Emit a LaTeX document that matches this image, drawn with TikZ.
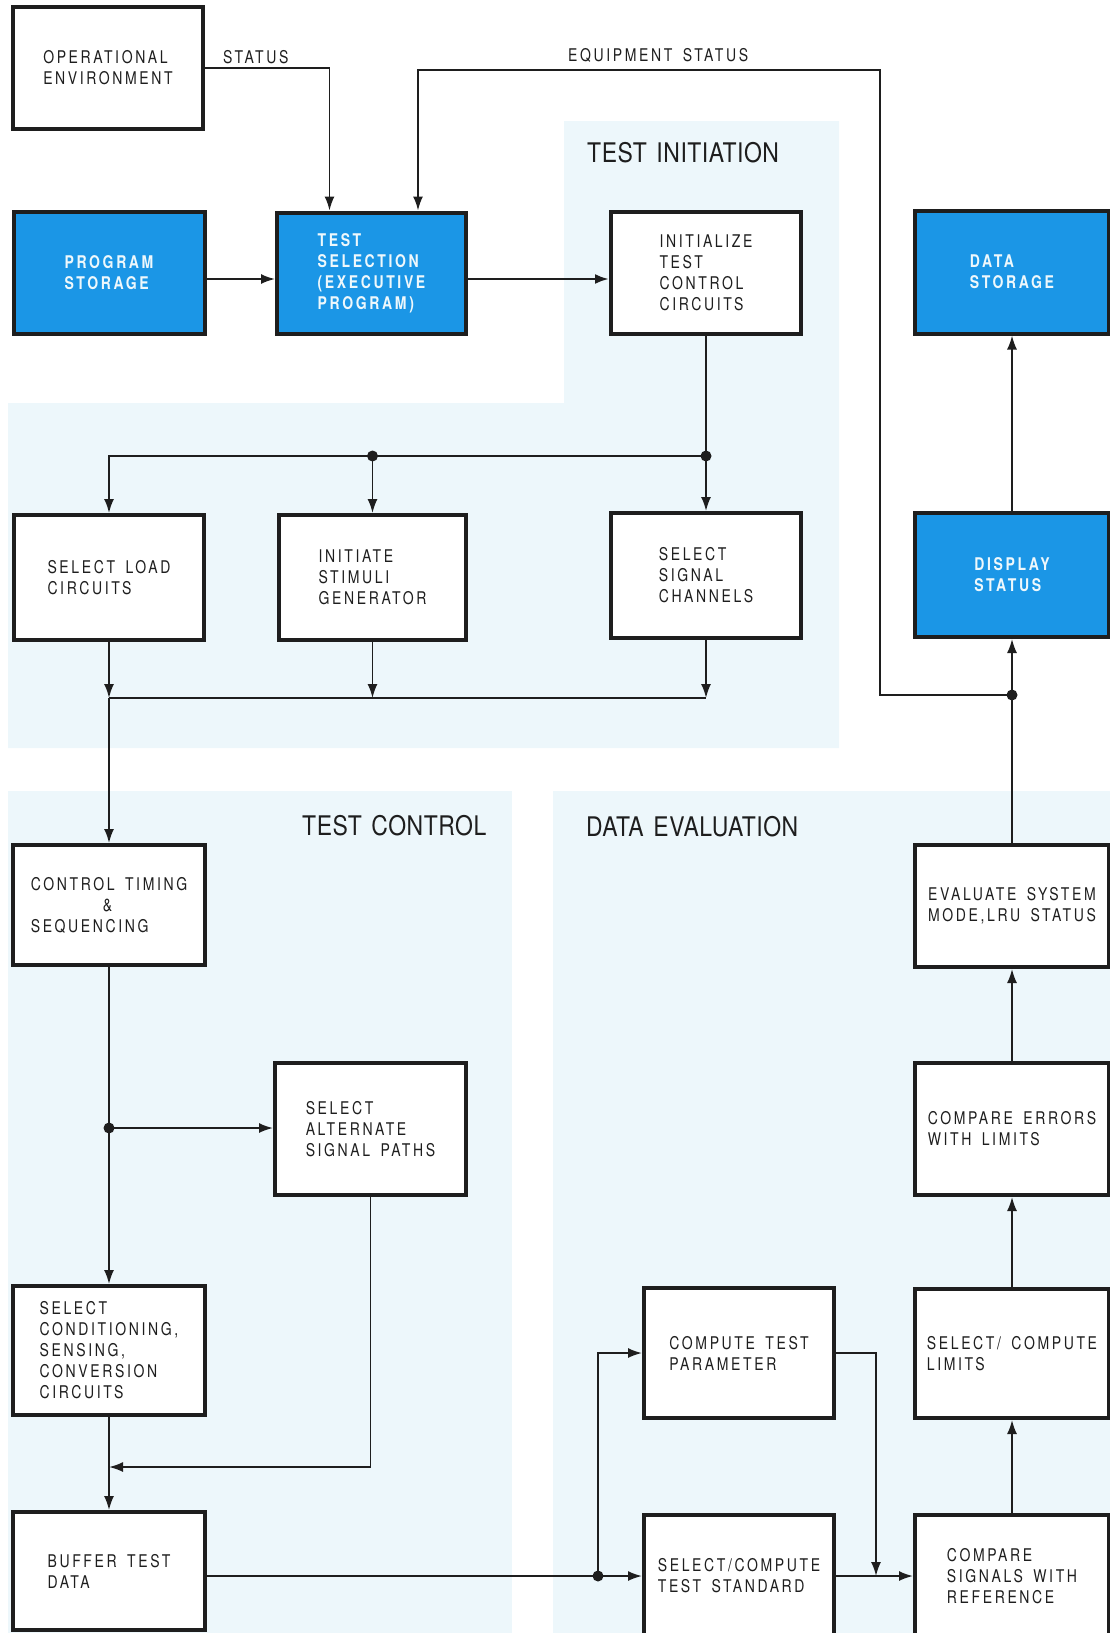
\documentclass[tikz,border=0pt]{standalone}
\usepackage{fontspec}
\setmainfont{TeX Gyre Heros}[FakeStretch=0.8,LetterSpace=15,WordSpace=1.6]
\newfontfamily\headfont{TeX Gyre Heros}[FakeStretch=0.85,LetterSpace=2,WordSpace=1.4]
\usetikzlibrary{arrows.meta}
\definecolor{ink}{RGB}{30,30,30}
\definecolor{panel}{RGB}{27,150,230}
\definecolor{wash}{RGB}{237,247,251}
\definecolor{chalk}{RGB}{238,248,252}

\begin{document}
\begin{tikzpicture}[x=1pt,y=-1pt,
  box/.style={draw=ink,line width=4pt,fill=white,text=ink,align=left,inner sep=0pt,
    font=\fontsize{17.5}{21}\selectfont},
  bluebox/.style={box,fill=panel,text=chalk,font=\fontsize{17.5}{21}\selectfont\bfseries},
  lbl/.style={text=ink,inner sep=0pt,anchor=west,font=\fontsize{17.5}{21}\selectfont},
  head/.style={text=ink,inner sep=0pt,anchor=west,font=\fontsize{27}{32}\headfont},
  conn/.style={draw=ink,line width=1.8pt},
  arr/.style={conn,-{Latex[length=14pt,width=10pt]}}]
\useasboundingbox (0,0) rectangle (1110,1633);
\clip (0,0) rectangle (1110,1633);
\fill[wash] (8,403) -- (564,403) -- (564,121) -- (839,121) -- (839,748) -- (8,748) -- cycle;
\fill[wash] (8,791) rectangle (512,1633);
\fill[wash] (553,791) rectangle (1110,1633);

\node[lbl] (stat) at (223,57) {STATUS};
\node[lbl] (eqstat) at (568,55) {EQUIPMENT STATUS};
\node[head] (tinit) at (587,153) {TEST INITIATION};
\node[head] (tctrl) at (302,826) {TEST CONTROL};
\node[head] (deval) at (586,827) {DATA EVALUATION};

\node[box,minimum width=190pt,minimum height=122pt] (oper) at (108,68) {OPERATIONAL\\ENVIRONMENT};
\node[bluebox,minimum width=191pt,minimum height=122pt] (prog) at (109,273) {PROGRAM\\STORAGE};
\node[bluebox,minimum width=189pt,minimum height=121pt] (sel) at (371.5,273) {TEST\\SELECTION\\(EXECUTIVE\\PROGRAM\,)};
\node[box,minimum width=190pt,minimum height=122pt] (init) at (706,273) {INITIALIZE\\TEST\\CONTROL\\CIRCUITS};
\node[bluebox,minimum width=194pt,minimum height=123pt] (store) at (1012,272) {DATA\\STORAGE};
\node[box,minimum width=190pt,minimum height=125pt] (load) at (109,577.5) {SELECT LOAD\\CIRCUITS};
\node[box,minimum width=187pt,minimum height=125pt] (stim) at (372.5,577.5) {INITIATE\\STIMULI\\GENERATOR};
\node[box,minimum width=190pt,minimum height=125pt] (chan) at (706,575.5) {SELECT\\SIGNAL\\CHANNELS};
\node[bluebox,minimum width=194pt,minimum height=124pt] (disp) at (1012,575) {DISPLAY\\STATUS};
\node[box,minimum width=192pt,minimum height=120pt] (timing) at (109,905) {CONTROL TIMING\\\hspace*{72pt}\&\\SEQUENCING};
\node[box,minimum width=194pt,minimum height=122pt] (eval) at (1012,906) {EVALUATE SYSTEM\\MODE,LRU STATUS};
\node[box,minimum width=191pt,minimum height=132pt] (alt) at (370.5,1129) {SELECT\\ALTERNATE\\SIGNAL PATHS};
\node[box,minimum width=194pt,minimum height=132pt] (err) at (1012,1129) {COMPARE ERRORS\\WITH LIMITS};
\node[box,minimum width=192pt,minimum height=129pt] (cond) at (109,1350.5) {SELECT\\CONDITIONING,\\SENSING,\\CONVERSION\\CIRCUITS};
\node[box,minimum width=190pt,minimum height=130pt] (par) at (739,1353) {COMPUTE TEST\\PARAMETER};
\node[box,minimum width=194pt,minimum height=129pt] (lim) at (1012,1353.5) {SELECT/ COMPUTE\\LIMITS};
\node[box,minimum width=192pt,minimum height=118pt] (buf) at (109,1571) {BUFFER TEST\\DATA};
\node[box,minimum width=190pt,minimum height=122pt] (std) at (739,1576) {SELECT/COMPUTE\\TEST STANDARD};
\node[box,minimum width=194pt,minimum height=122pt] (cmp) at (1012,1576) {COMPARE\\SIGNALS WITH\\REFERENCE};

\coordinate (j1) at (706,456);
\coordinate (j2) at (372.5,456);
\coordinate (c1) at (109,698);
\coordinate (j3) at (109,1128);
\coordinate (c2) at (109,1467);
\coordinate (j4) at (598,1576);
\coordinate (c3) at (876,1576);
\coordinate (j5) at (1012,695);
\coordinate (eqc) at (880,70);

\draw[arr] (oper.east) -| ([xshift=-42pt]sel.north);
\draw[arr] (j5) -| (eqc) -| ([xshift=46.5pt]sel.north);
\draw[arr] ([yshift=-6pt]prog.east) -- ([yshift=-6pt]sel.west);
\draw[arr,line width=2.6pt] ([yshift=-6pt]sel.east) -- ([yshift=-6pt]init.west);
\draw[arr] (init) -- (chan);
\draw[arr] (j1) -| (load.north);
\draw[arr] (j2) -- (stim);
\foreach \b in {load,stim,chan}
    \draw[arr] (\b.south) -- (\b.south |- c1);
\draw[conn] (c1) -- (chan.south |- c1);
\draw[arr] (c1) -- (timing);
\draw[arr] (timing) -- (cond);
\draw[arr] (j3) -- (j3 -| alt.west);
\draw[arr] (alt.south) |- (c2);
\draw[arr] (cond) -- (buf);
\draw[conn] (buf.east |- j4) -- (j4);
\draw[arr] (j4) -- (std);
\draw[arr] (j4) |- (par.west);
\draw[arr] (par.east) -| (c3);
\draw[arr] (std) -- (cmp);
\draw[arr] (cmp) -- (lim);
\draw[arr] (lim) -- (err);
\draw[arr] (err) -- (eval);
\draw[arr] (eval) -- (disp);
\draw[arr] (disp) -- (store);
\foreach \j in {j1,j2,j3,j4,j5}
    \fill[ink] (\j) circle (5.5pt);
\end{tikzpicture}
\end{document}
